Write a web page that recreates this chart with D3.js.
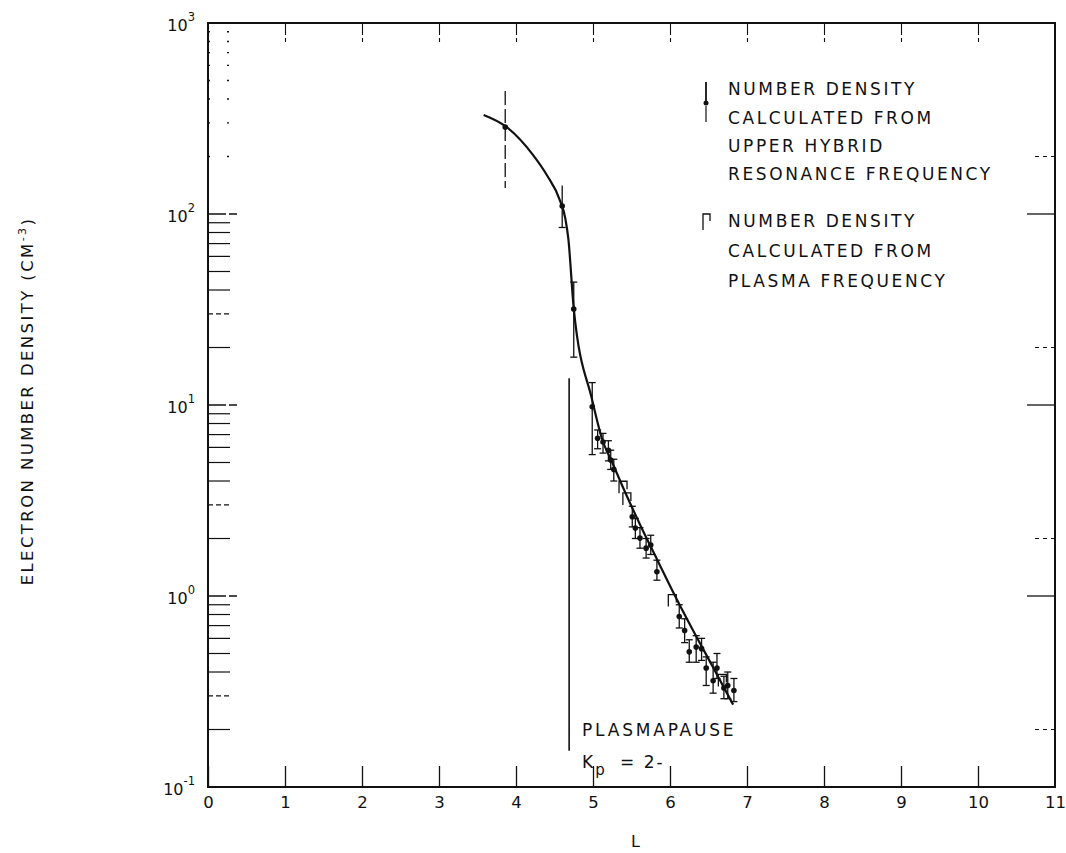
<!DOCTYPE html>
<html><head><meta charset="utf-8">
<script src="https://cdn.jsdelivr.net/npm/d3@7/dist/d3.min.js"></script>
<style>
body{margin:0;background:#fff;}
svg text{font-family:"DejaVu Sans",sans-serif;fill:#111;}
</style></head>
<body><svg id="c" width="1066" height="853"></svg>
<script>
// ---- data ----
const lTicks = [0,1,2,3,4,5,6,7,8,9,10,11];
const yMajor = [0.1,1,10,100,1000];
const yMajorExp = ["-1","0","1","2","3"];
// upper hybrid resonance points
const uhrL  = [3.86,4.60,4.75,4.99,5.06,5.13,5.20,5.23,5.27,5.51,5.55,5.61,5.69,5.75,5.83,6.12,6.19,6.25,6.34,6.41,6.47,6.56,6.61,6.70,6.75,6.83];
const uhrN  = [285,110,31.8,9.8,6.7,6.4,5.8,5.15,4.6,2.6,2.27,2.01,1.78,1.85,1.34,0.78,0.66,0.51,0.54,0.53,0.42,0.36,0.42,0.33,0.34,0.32];
const uhrLo = [137,85,17.8,5.5,5.9,5.6,5.1,4.6,4.0,2.3,2.0,1.78,1.58,1.65,1.21,0.68,0.57,0.45,0.45,0.46,0.34,0.31,0.37,0.29,0.29,0.28];
const uhrHi = [440,141,44,13.1,7.4,7.1,6.5,5.8,5.2,2.95,2.55,2.28,2.0,2.08,1.54,0.9,0.76,0.59,0.62,0.6,0.48,0.45,0.5,0.38,0.4,0.37];
// plasma frequency points
const plasmaL = [5.39,5.44,6.03,6.68];
const plasmaN = [3.8,3.3,0.97,0.37];
// fitted curve
const curveL = [3.58,3.88,4.22,4.40,4.57,4.64,4.68,4.75,4.99,5.12,5.25,5.39,5.61,5.84,6.03,6.30,6.55,6.82];
const curveN = [330,285,204,160,118,95,74,32,10.6,6.6,5.0,3.7,2.37,1.53,1.07,0.66,0.43,0.27];
// plasmapause
const ppL = 4.69, ppTop = 13.8, ppBottom = 0.155;
const legend1 = ["NUMBER DENSITY","CALCULATED FROM","UPPER HYBRID","RESONANCE FREQUENCY"];
const legend2 = ["NUMBER DENSITY","CALCULATED FROM","PLASMA FREQUENCY"];

const svg = d3.select("#c");
const x = d3.scaleLinear().domain([0,11]).range([208,1055]);
const y = d3.scaleLog().domain([0.1,1000]).range([787,23]);

// frame
svg.append("rect").attr("x",x(0)).attr("y",y(1000)).attr("width",x(11)-x(0)).attr("height",y(0.1)-y(1000))
  .attr("fill","none").attr("stroke","#111").attr("stroke-width",2);

// bottom axis
const gb = svg.append("g").attr("transform",`translate(0,${y(0.1)})`)
  .call(d3.axisBottom(x).tickValues(lTicks).tickSize(-21).tickPadding(9).tickFormat(d3.format("d")));
gb.select(".domain").remove();
gb.selectAll(".tick line").attr("stroke","#111").attr("stroke-width",1.3);
gb.selectAll(".tick text").attr("font-size",16.5).attr("font-family","DejaVu Sans").attr("fill","#111");
gb.selectAll(".tick").filter(d=>d===11).select("line").remove();

// top axis
const gt = svg.append("g").attr("transform",`translate(0,${y(1000)})`)
  .call(d3.axisTop(x).tickValues(lTicks.filter(d=>d>0&&d<11)).tickSize(-19).tickFormat(""));
gt.select(".domain").remove();
gt.selectAll(".tick line").attr("stroke","#111").attr("stroke-width",1.1).attr("stroke-dasharray","12,3");

// left minor ticks
const minor = [];
[0.1,1,10,100].forEach(b=>{for(let k=2;k<=9;k++) minor.push(b*k);});
svg.append("g").selectAll("line").data(minor).join("line")
  .attr("x1",x(0)).attr("x2",d=>d>100?x(0)+21:x(0)+22)
  .attr("y1",d=>y(d)).attr("y2",d=>y(d))
  .attr("stroke","#111").attr("stroke-width",d=>d>100?1.4:1.2)
  .attr("stroke-dasharray",d=>d>100?"2,17,2":(String(d).indexOf("3")===0||String(d).indexOf("0.3")===0?"5,3":null));
// left major ticks
svg.append("g").selectAll("line").data(yMajor.slice(1,4)).join("line")
  .attr("x1",x(0)).attr("x2",x(0)+29).attr("y1",d=>y(d)).attr("y2",d=>y(d))
  .attr("stroke","#111").attr("stroke-width",1.3).attr("stroke-dasharray","18,3");
// right ticks
svg.append("g").selectAll("line").data(yMajor.slice(1,4)).join("line")
  .attr("x1",x(11)).attr("x2",x(11)-28).attr("y1",d=>y(d)).attr("y2",d=>y(d))
  .attr("stroke","#111").attr("stroke-width",1.3);
svg.append("g").selectAll("line").data([0.2,2,20,200]).join("line")
  .attr("x1",x(11)).attr("x2",x(11)-20).attr("y1",d=>y(d)).attr("y2",d=>y(d))
  .attr("stroke","#111").attr("stroke-width",1.1).attr("stroke-dasharray","4,4");

// y labels
const yl = svg.append("g").selectAll("text").data(yMajor).join("text")
  .attr("x",x(0)-13).attr("y",d=>y(d)+8).attr("text-anchor","end").attr("font-size",16);
yl.append("tspan").text("10");
yl.append("tspan").attr("dy",-10).attr("font-size",11.5).text((d,i)=>yMajorExp[i]);

// axis titles
svg.append("text").attr("x",x(5.55)).attr("y",847).attr("text-anchor","middle").attr("font-size",16).text("L");
const yt = svg.append("text").attr("transform","translate(33,401) rotate(-90)").attr("text-anchor","middle")
  .attr("font-size",16.5).attr("letter-spacing",2.4);
yt.append("tspan").text("ELECTRON NUMBER DENSITY (CM");
yt.append("tspan").attr("dy",-7).attr("font-size",11).text("-3");
yt.append("tspan").attr("dy",7).text(")");

// plasmapause line
svg.append("line").attr("x1",x(ppL)).attr("x2",x(ppL)).attr("y1",y(ppTop)).attr("y2",y(ppBottom))
  .attr("stroke","#111").attr("stroke-width",1.6);
svg.append("text").attr("x",582).attr("y",736).attr("font-size",17).attr("letter-spacing",2.8).text("PLASMAPAUSE");
const kp = svg.append("text").attr("x",582).attr("y",768).attr("font-size",17).attr("letter-spacing",2);
kp.append("tspan").text("K");
kp.append("tspan").attr("dy",7).attr("font-size",15).text("p");
kp.append("tspan").attr("dy",-7).attr("dx",6).text(" =  2-");

// curve
const cData = curveL.map((l,i)=>[l,curveN[i]]);
svg.append("path").datum(cData)
  .attr("d",d3.line().x(d=>x(d[0])).y(d=>y(d[1])).curve(d3.curveMonotoneX))
  .attr("fill","none").attr("stroke","#111").attr("stroke-width",2.2);

// uhr error bars & dots
const uhr = uhrL.map((l,i)=>({l,n:uhrN[i],lo:uhrLo[i],hi:uhrHi[i],i}));
const gu = svg.append("g").attr("stroke","#111").attr("stroke-width",1.3);
gu.selectAll("line.bar").data(uhr).join("line").attr("class","bar")
  .attr("x1",d=>x(d.l)).attr("x2",d=>x(d.l)).attr("y1",d=>y(d.hi)).attr("y2",d=>y(d.lo))
  .attr("stroke-dasharray",d=>d.i===0?"14,4":null);
gu.selectAll("line.capt").data(uhr.filter(d=>d.i>1)).join("line").attr("class","capt")
  .attr("x1",d=>x(d.l)-3.5).attr("x2",d=>x(d.l)+3.5).attr("y1",d=>y(d.hi)).attr("y2",d=>y(d.hi));
gu.selectAll("line.capb").data(uhr.filter(d=>d.i>0)).join("line").attr("class","capb")
  .attr("x1",d=>x(d.l)-3.5).attr("x2",d=>x(d.l)+3.5).attr("y1",d=>y(d.lo)).attr("y2",d=>y(d.lo));
svg.append("g").selectAll("circle").data(uhr).join("circle")
  .attr("cx",d=>x(d.l)).attr("cy",d=>y(d.n)).attr("r",2.8).attr("fill","#111");

// plasma frequency marks
const pf = plasmaL.map((l,i)=>({l,n:plasmaN[i]}));
svg.append("g").selectAll("path").data(pf).join("path")
  .attr("d",d=>{const cx=x(d.l),cy=y(d.n);return `M${cx-4},${cy+8}V${cy-4}H${cx+4}V${cy+4}`;})
  .attr("fill","none").attr("stroke","#111").attr("stroke-width",1.3);

// legend
svg.append("line").attr("x1",706).attr("x2",706).attr("y1",82).attr("y2",101).attr("stroke","#111").attr("stroke-width",1.8);
svg.append("line").attr("x1",706).attr("x2",706).attr("y1",106).attr("y2",122).attr("stroke","#111").attr("stroke-width",1.2);
svg.append("circle").attr("cx",706).attr("cy",103).attr("r",2.5).attr("fill","#111");
svg.append("path").attr("d","M703,230V214H710V221").attr("fill","none").attr("stroke","#111").attr("stroke-width",1.3);
const lg1Y = [95,124,152,180], lg2Y = [227,257,287];
svg.append("g").selectAll("text").data(legend1).join("text")
  .attr("x",728).attr("y",(d,i)=>lg1Y[i]).attr("font-size",17).attr("letter-spacing",2.6).text(d=>d);
svg.append("g").selectAll("text").data(legend2).join("text")
  .attr("x",728).attr("y",(d,i)=>lg2Y[i]).attr("font-size",17).attr("letter-spacing",2.6).text(d=>d);
</script></body></html>
